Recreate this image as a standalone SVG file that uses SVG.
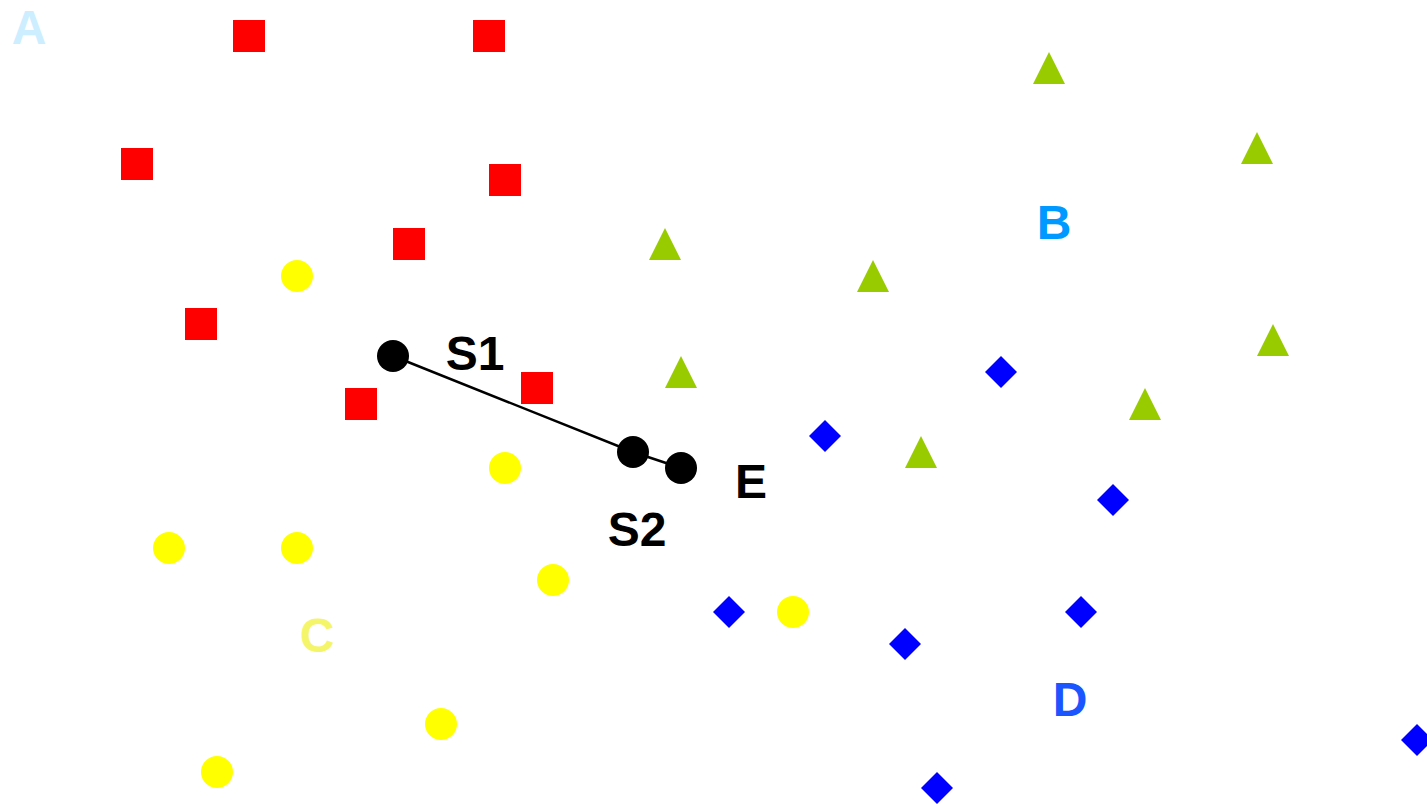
<svg xmlns="http://www.w3.org/2000/svg" width="1427" height="804" viewBox="0 0 1427 804">
  <style>
    .sq { fill: #ff0000; }
    .dot { fill: #ffff00; }
    .tri { fill: #99cc00; }
    .dia { fill: #0000ff; }
    .pt { fill: #000000; }
    .edge { stroke: #000000; stroke-width: 2.5; fill: none; }
    .lbl { font-family: "Liberation Sans", Arial, sans-serif; font-weight: bold; font-size: 48px; text-anchor: middle; }
  </style>
  <defs>
    <rect id="square" x="-16" y="-16" width="32" height="32"/>
    <circle id="circ" r="16"/>
    <polygon id="triangle" points="0,-16 16,16 -16,16"/>
    <polygon id="diamond" points="0,-16 16,0 0,16 -16,0"/>
  </defs>
  <rect width="1427" height="804" fill="#ffffff"/>

  <!-- cluster labels -->
  <g id="labels">
    <text class="lbl" x="29" y="44" fill="#cceeff">A</text>
    <text class="lbl" x="1054" y="239" fill="#0099ff">B</text>
    <text class="lbl" x="317" y="652" fill="#f5f56a">C</text>
    <text class="lbl" x="1070" y="716" fill="#1a55ff">D</text>
  </g>

  <!-- class A: red squares -->
  <g id="class-a">
    <g id="a1"><use href="#square" class="sq" x="249" y="36"/></g>
    <g id="a2"><use href="#square" class="sq" x="489" y="36"/></g>
    <g id="a3"><use href="#square" class="sq" x="137" y="164"/></g>
    <g id="a4"><use href="#square" class="sq" x="505" y="180"/></g>
    <g id="a5"><use href="#square" class="sq" x="409" y="244"/></g>
    <g id="a6"><use href="#square" class="sq" x="201" y="324"/></g>
    <g id="a7"><use href="#square" class="sq" x="361" y="404"/></g>
    <g id="a8"><use href="#square" class="sq" x="537" y="388"/></g>
  </g>

  <!-- class B: green triangles -->
  <g id="class-b">
    <g id="b1"><use href="#triangle" class="tri" x="1049" y="68"/></g>
    <g id="b2"><use href="#triangle" class="tri" x="1257" y="148"/></g>
    <g id="b3"><use href="#triangle" class="tri" x="665" y="244"/></g>
    <g id="b4"><use href="#triangle" class="tri" x="873" y="276"/></g>
    <g id="b5"><use href="#triangle" class="tri" x="1273" y="340"/></g>
    <g id="b6"><use href="#triangle" class="tri" x="681" y="372"/></g>
    <g id="b7"><use href="#triangle" class="tri" x="1145" y="404"/></g>
    <g id="b8"><use href="#triangle" class="tri" x="921" y="452"/></g>
  </g>

  <!-- class C: yellow circles -->
  <g id="class-c">
    <g id="c1"><use href="#circ" class="dot" x="297" y="276"/></g>
    <g id="c2"><use href="#circ" class="dot" x="505" y="468"/></g>
    <g id="c3"><use href="#circ" class="dot" x="169" y="548"/></g>
    <g id="c4"><use href="#circ" class="dot" x="297" y="548"/></g>
    <g id="c5"><use href="#circ" class="dot" x="553" y="580"/></g>
    <g id="c6"><use href="#circ" class="dot" x="793" y="612"/></g>
    <g id="c7"><use href="#circ" class="dot" x="441" y="724"/></g>
    <g id="c8"><use href="#circ" class="dot" x="217" y="772"/></g>
  </g>

  <!-- class D: blue diamonds -->
  <g id="class-d">
    <g id="d1"><use href="#diamond" class="dia" x="1001" y="372"/></g>
    <g id="d2"><use href="#diamond" class="dia" x="825" y="436"/></g>
    <g id="d3"><use href="#diamond" class="dia" x="1113" y="500"/></g>
    <g id="d4"><use href="#diamond" class="dia" x="729" y="612"/></g>
    <g id="d5"><use href="#diamond" class="dia" x="1081" y="612"/></g>
    <g id="d6"><use href="#diamond" class="dia" x="905" y="644"/></g>
    <g id="d7"><use href="#diamond" class="dia" x="937" y="788"/></g>
    <g id="d8"><use href="#diamond" class="dia" x="1417" y="740"/></g>
  </g>

  <!-- path S1 -> S2 -> E -->
  <g id="connectors">
    <polyline class="edge" points="393,356 633,452 681,468"/>
  </g>

  <g id="s1">
    <use href="#circ" class="pt" x="393" y="356"/>
    <text class="lbl" x="475" y="370" fill="#000000">S1</text>
  </g>
  <g id="s2">
    <use href="#circ" class="pt" x="633" y="452"/>
    <text class="lbl" x="637" y="546" fill="#000000">S2</text>
  </g>
  <g id="e">
    <use href="#circ" class="pt" x="681" y="468"/>
    <text class="lbl" x="751" y="498" fill="#000000">E</text>
  </g>
</svg>
